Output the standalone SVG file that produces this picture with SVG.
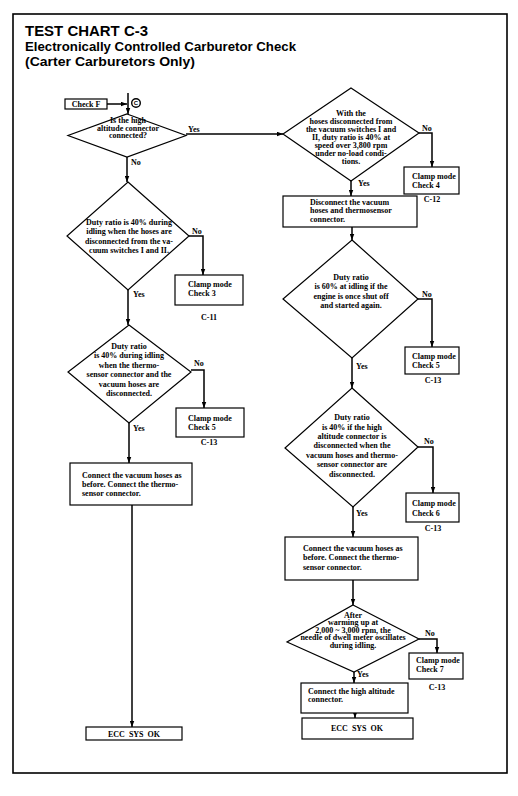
<svg xmlns="http://www.w3.org/2000/svg" width="518" height="796" viewBox="0 0 518 796">
<defs>
<marker id="ah" viewBox="0 0 8 6" refX="8" refY="3" markerWidth="6" markerHeight="5" markerUnits="userSpaceOnUse" orient="auto"><path d="M0,0 L8,3 L0,6 Z" fill="#000"/></marker>
<style>
.t{font-family:"Liberation Serif","Times New Roman",serif;font-weight:bold;font-size:8px;fill:#000}
.m{text-anchor:middle}
.h{font-family:"Liberation Sans",Arial,sans-serif;font-weight:bold;fill:#000}
.s{fill:#fff;stroke:#000;stroke-width:1.2}
.c{fill:none;stroke:#000;stroke-width:1.5;marker-end:url(#ah)}
.l{fill:none;stroke:#000;stroke-width:1.5}
</style>
</defs>
<rect width="518" height="796" fill="#fff"/>
<rect x="13" y="14" width="494" height="759" fill="none" stroke="#000" stroke-width="1.6"/>
<text class="h" x="25" y="36" font-size="14.5" textLength="123" lengthAdjust="spacingAndGlyphs">TEST CHART C-3</text>
<text class="h" x="25" y="51" font-size="13" textLength="271" lengthAdjust="spacingAndGlyphs">Electronically Controlled Carburetor Check</text>
<text class="h" x="25" y="66" font-size="13" textLength="170" lengthAdjust="spacingAndGlyphs">(Carter Carburetors Only)</text>

<g id="connectors">
<path class="l" d="M128,93 V104"/>
<path class="c" d="M107,104 H127"/>
<path class="c" d="M128,104 V114"/>
<path class="c" d="M127,157 V182"/>
<path class="c" d="M128,290 V325"/>
<path class="c" d="M129,423 V463"/>
<path class="c" d="M132,505 V727"/>
<path class="c" d="M189,236 H203 V275"/>
<path class="c" d="M191,370 H204 V408"/>
<path class="c" d="M186,134 H283"/>
<path class="c" d="M419,133 H432 V167"/>
<path class="c" d="M351,181 V196"/>
<path class="c" d="M352,227 V240"/>
<path class="c" d="M418,299 H432 V347"/>
<path class="c" d="M352,358 V388"/>
<path class="c" d="M418,447 H433 V493"/>
<path class="c" d="M353,507 V537"/>
<path class="c" d="M353,580 V605"/>
<path class="c" d="M419,639 H437 V653"/>
<path class="c" d="M354,672 V683"/>
<path class="c" d="M355,713 V718"/>
<text class="t" x="188" y="132">Yes</text>
<text class="t" x="131" y="165">No</text>
<text class="t" x="192" y="234">No</text>
<text class="t" x="133" y="297">Yes</text>
<text class="t" x="194" y="366">No</text>
<text class="t" x="133" y="431">Yes</text>
<text class="t" x="422" y="131">No</text>
<text class="t" x="358" y="186">Yes</text>
<text class="t" x="422" y="297">No</text>
<text class="t" x="356" y="369">Yes</text>
<text class="t" x="424" y="444">No</text>
<text class="t" x="356" y="516">Yes</text>
<text class="t" x="425" y="636">No</text>
<text class="t" x="357" y="677">Yes</text>
</g>

<g id="checkF">
<rect class="s" x="65" y="99" width="42" height="10"/>
<text class="t m" x="86" y="107" font-size="7.5">Check F</text>
</g>
<g id="connectorC">
<circle cx="136" cy="103" r="4.3" fill="none" stroke="#000" stroke-width="1.4"/>
<text class="h m" x="136" y="105.3" font-size="6">C</text>
</g>

<g id="d1">
<polygon class="s" points="127,114 186,135.5 127,157 68,135.5"/>
<text class="t m" x="128" y="123">Is the high</text>
<text class="t m" x="128" y="130.5">altitude connector</text>
<text class="t m" x="128" y="138">connected?</text>
</g>

<g id="d2">
<polygon class="s" points="128,182 189,236 128,290 67,236"/>
<text class="t m" x="129" y="225">Duty ratio is 40% during</text>
<text class="t m" x="129" y="234">idling when the hoses are</text>
<text class="t m" x="129" y="243.5">disconnected from the va-</text>
<text class="t m" x="129" y="252.5">cuum switches I and II.</text>
</g>

<g id="clamp3">
<rect class="s" x="175" y="275" width="68" height="30"/>
<text class="t" x="188" y="287">Clamp mode</text>
<text class="t" x="188" y="296">Check 3</text>
<text class="t m" x="209" y="320">C-11</text>
</g>

<g id="d3">
<polygon class="s" points="129,325 191,372 129,423 68,372"/>
<text class="t m" x="129" y="348.5">Duty ratio</text>
<text class="t m" x="129" y="358">is 40% during idling</text>
<text class="t m" x="129" y="367.5">when the thermo-</text>
<text class="t m" x="129" y="377">sensor connector and the</text>
<text class="t m" x="129" y="386.5">vacuum hoses are</text>
<text class="t m" x="129" y="396">disconnected.</text>
</g>

<g id="clamp5a">
<rect class="s" x="176" y="408" width="68" height="29"/>
<text class="t" x="188" y="420.5">Clamp mode</text>
<text class="t" x="188" y="429.5">Check 5</text>
<text class="t m" x="209" y="445">C-13</text>
</g>

<g id="reconnectL">
<rect class="s" x="70" y="463" width="122" height="42"/>
<text class="t" x="82" y="477.5">Connect the vacuum hoses as</text>
<text class="t" x="82" y="486.5">before. Connect the thermo-</text>
<text class="t" x="82" y="495.5">sensor connector.</text>
</g>

<g id="eccL">
<rect class="s" x="86" y="727" width="96" height="13"/>
<text class="t m" x="134" y="736.5" font-size="7.5" word-spacing="2">ECC SYS OK</text>
</g>

<g id="r1">
<polygon class="s" points="351,88 419,133 351,181 283,134"/>
<text class="t m" x="351" y="116" font-size="7.8">With the</text>
<text class="t m" x="351" y="124" font-size="7.8">hoses disconnected from</text>
<text class="t m" x="351" y="132" font-size="7.8">the vacuum switches I and</text>
<text class="t m" x="351" y="140" font-size="7.8">II, duty ratio is 40% at</text>
<text class="t m" x="351" y="148" font-size="7.8">speed over 3,800 rpm</text>
<text class="t m" x="351" y="156" font-size="7.8">under no-load condi-</text>
<text class="t m" x="351" y="163.5" font-size="7.8">tions.</text>
</g>

<g id="clamp4">
<rect class="s" x="404" y="167" width="55" height="27"/>
<text class="t" x="412" y="178.5">Clamp mode</text>
<text class="t" x="412" y="187.5">Check 4</text>
<text class="t m" x="432" y="202">C-12</text>
</g>

<g id="disconnect">
<rect class="s" x="283" y="196" width="134" height="31"/>
<text class="t" x="310" y="204.5">Disconnect the vacuum</text>
<text class="t" x="310" y="213">hoses and thermosensor</text>
<text class="t" x="310" y="221.5">connector.</text>
</g>

<g id="r2">
<polygon class="s" points="352,240 418,299 352,358 283,299"/>
<text class="t m" x="351" y="279.5">Duty ratio</text>
<text class="t m" x="351" y="289">is 60% at idling if the</text>
<text class="t m" x="351" y="298.5">engine is once shut off</text>
<text class="t m" x="351" y="308">and started again.</text>
</g>

<g id="clamp5b">
<rect class="s" x="405" y="347" width="54" height="27"/>
<text class="t" x="412" y="358.5">Clamp mode</text>
<text class="t" x="412" y="367.5">Check 5</text>
<text class="t m" x="433" y="383">C-13</text>
</g>

<g id="r3">
<polygon class="s" points="352,388 418,447 353,507 285,448"/>
<text class="t m" x="352" y="420">Duty ratio</text>
<text class="t m" x="352" y="429.5">is 40% if the high</text>
<text class="t m" x="352" y="438.5">altitude connector is</text>
<text class="t m" x="352" y="448">disconnected when the</text>
<text class="t m" x="352" y="457.5">vacuum hoses and thermo-</text>
<text class="t m" x="352" y="467">sensor connector are</text>
<text class="t m" x="352" y="476.5">disconnected.</text>
</g>

<g id="clamp6">
<rect class="s" x="406" y="493" width="53" height="29"/>
<text class="t" x="412" y="506">Clamp mode</text>
<text class="t" x="412" y="515.5">Check 6</text>
<text class="t m" x="433" y="531">C-13</text>
</g>

<g id="reconnectR">
<rect class="s" x="285" y="537" width="133" height="43"/>
<text class="t" x="303" y="550.5">Connect the vacuum hoses as</text>
<text class="t" x="303" y="560">before. Connect the thermo-</text>
<text class="t" x="303" y="569.5">sensor connector.</text>
</g>

<g id="r4">
<polygon class="s" points="353,605 419,639 354,672 287,642"/>
<text class="t m" x="353" y="617.5">After</text>
<text class="t m" x="353" y="625">warming up at</text>
<text class="t m" x="353" y="632.5">2,000 ~ 3,000 rpm, the</text>
<text class="t m" x="353" y="640">needle of dwell meter oscillates</text>
<text class="t m" x="353" y="647.5">during idling.</text>
</g>

<g id="clamp7">
<rect class="s" x="409" y="653" width="54" height="26"/>
<text class="t" x="416" y="662.5">Clamp mode</text>
<text class="t" x="416" y="671.5">Check 7</text>
<text class="t m" x="437" y="689.5">C-13</text>
</g>

<g id="highAlt">
<rect class="s" x="301" y="683" width="107" height="30"/>
<text class="t" x="308" y="693.5">Connect the high altitude</text>
<text class="t" x="308" y="702">connector.</text>
</g>

<g id="eccR">
<rect class="s" x="302" y="718" width="111" height="21"/>
<text class="t m" x="357" y="731" font-size="7.5" word-spacing="2">ECC SYS OK</text>
</g>
</svg>
